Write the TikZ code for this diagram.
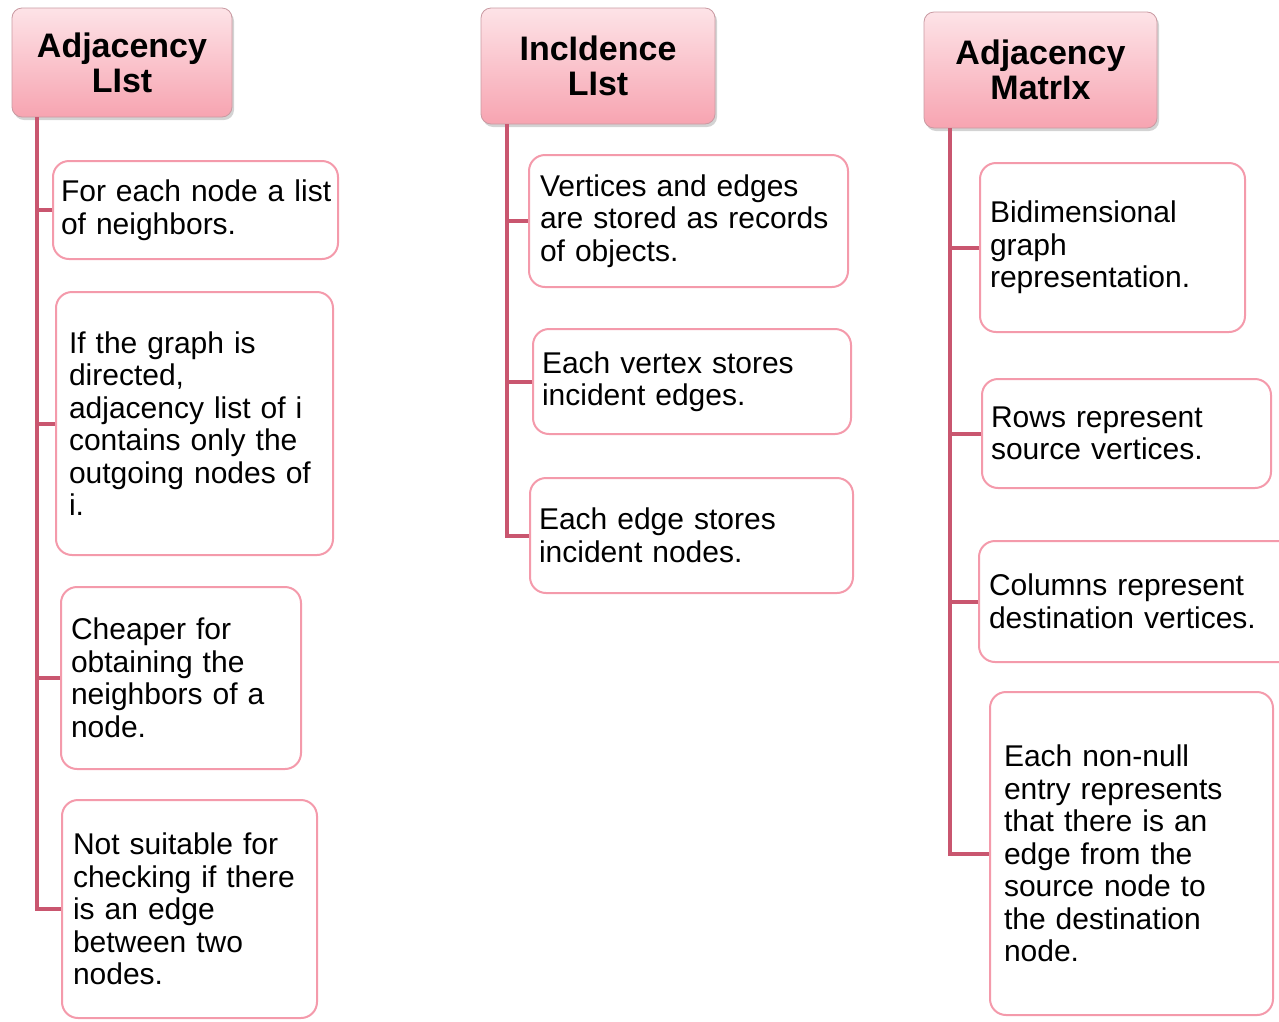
\documentclass[tikz,border=0pt]{standalone}
\usepackage{fontspec}
\setmainfont{Liberation Sans}
\usetikzlibrary{shadows}

\definecolor{trunkred}{HTML}{C9566F}
\definecolor{leafpink}{HTML}{F49AAB}
\definecolor{headtop}{HTML}{FDE3E7}
\definecolor{headbot}{HTML}{F7A4B1}
\definecolor{headedge}{HTML}{C99AA2}

\tikzset{
  header/.style={draw=headedge, line width=0.8pt, rounded corners=10pt,
    top color=headtop, bottom color=headbot, align=center,
    font=\fontsize{34}{35}\selectfont\bfseries,
    drop shadow={opacity=0.35, shadow xshift=2pt, shadow yshift=-3pt}},
  leaf/.style={draw=leafpink, line width=2pt, rounded corners=16pt,
    fill=white, align=left, inner ysep=0pt,
    font=\fontsize{30}{32.5}\selectfont},
  trunk/.style={draw=trunkred, line width=4pt},
}

% leaf box: name, left, top, right, bottom, horizontal padding, text
\newcommand\leafnode[7]{%
  \pgfmathsetmacro\lw{#4-#2}%
  \pgfmathsetmacro\lh{#5-#3}%
  \pgfmathsetmacro\lt{#4-#2-2*#6}%
  \node[leaf, inner xsep=#6pt, minimum width=\lw pt, minimum height=\lh pt,
        text width=\lt pt] (#1) at ({(#2+#4)/2},{(#3+#5)/2}) {#7};}

\begin{document}
\begin{tikzpicture}[x=1pt, y=-1pt]
\useasboundingbox (0,0) rectangle (1279,1021);
\clip (0,0) rectangle (1279,1021);

% column headers
\node[header, minimum width=220pt, minimum height=109pt] (h1) at (122,62.5) {Adjacency\\LIst};
\node[header, minimum width=234pt, minimum height=116pt] (h2) at (598,66) {IncIdence\\LIst};
\node[header, minimum width=233pt, minimum height=116pt] (h3) at (1040.5,70) {Adjacency\\MatrIx};

% first column
\leafnode{b1}{53}{161}{338}{259}{5}{\hspace*{3pt}For each node a list\\\hspace*{3pt}of neighbors.}
\leafnode{b2}{56}{292}{333}{555}{13}{If the graph is\\directed,\\adjacency list of i\\contains only the\\outgoing nodes of\\i.}
\leafnode{b3}{61}{587}{301}{769}{10}{Cheaper for\\obtaining the\\neighbors of a\\node.}
\leafnode{b4}{62}{800}{317}{1018}{11}{Not suitable for\\checking if there\\is an edge\\between two\\nodes.}

% second column
\leafnode{b5}{529}{155}{848}{287}{11}{Vertices and edges\\are stored as records\\of objects.}
\leafnode{b6}{533}{329}{851}{434}{9}{Each vertex stores\\incident edges.}
\leafnode{b7}{530}{478}{853}{593}{9}{Each edge stores\\incident nodes.}

% third column
\leafnode{b8}{980}{163}{1245}{332}{10}{Bidimensional\\graph\\representation.}
\leafnode{b9}{982}{379}{1271}{488}{9}{Rows represent\\source vertices.}
\leafnode{b10}{979}{541}{1300}{662}{10}{Columns represent\\destination vertices.}
\leafnode{b11}{990}{692}{1273}{1015}{14}{Each non-null\\entry represents\\that there is an\\edge from the\\source node to\\the destination\\node.}

% trunk lines
\coordinate (t1) at (37,0);
\coordinate (t2) at (507,0);
\coordinate (t3) at (950,0);

\draw[trunk] (h1.south -| t1) |- (b4.west);
\draw[trunk] (b1.west) -- (b1.west -| t1);
\draw[trunk] (b2.west) -- (b2.west -| t1);
\draw[trunk] (b3.west) -- (b3.west -| t1);

\draw[trunk] (h2.south -| t2) |- (b7.west);
\draw[trunk] (b5.west) -- (b5.west -| t2);
\draw[trunk] (b6.west) -- (b6.west -| t2);

\draw[trunk] (h3.south -| t3) |- (b11.west);
\draw[trunk] (b8.west) -- (b8.west -| t3);
\draw[trunk] (b9.west) -- (b9.west -| t3);
\draw[trunk] (b10.west) -- (b10.west -| t3);
\end{tikzpicture}
\end{document}
